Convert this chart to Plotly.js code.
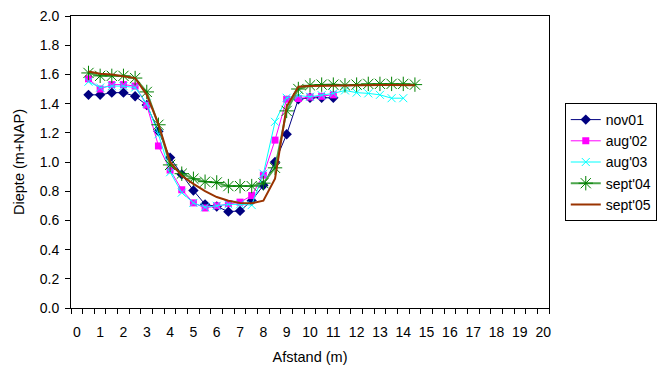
<!DOCTYPE html>
<html>
<head>
<meta charset="utf-8">
<script src="https://cdn.plot.ly/plotly-3.0.1.min.js"></script>
<style>html,body{margin:0;padding:0;background:#fff;}#chart{width:669px;height:374px;}</style>
</head>
<body>
<div id="chart"></div>
<script>
// Afstand (m)
const xNov01 = [0.5,1,1.5,2,2.5,3,3.5,4,4.5,5,5.5,6,6.5,7,7.5,8,8.5,9,9.5,10,10.5,11];
const yNov01 = [1.46,1.46,1.475,1.475,1.45,1.39,1.21,1.03,0.915,0.805,0.71,0.695,0.66,0.665,0.735,0.84,1.00,1.19,1.43,1.44,1.44,1.44];

const xAug02 = [0.5,1,1.5,2,2.5,3,3.5,4,4.5,5,5.5,6,6.5,7,7.5,8,8.5,9,9.5,10,10.5,11];
const yAug02 = [1.57,1.50,1.53,1.53,1.52,1.39,1.11,0.945,0.81,0.72,0.685,0.70,0.715,0.725,0.77,0.91,1.15,1.43,1.435,1.445,1.45,1.46];

const xAug03 = [0.5,1,1.5,2,2.5,3,3.5,4,4.5,5,5.5,6,6.5,7,7.5,8,8.5,9,9.5,10,10.5,11,11.5,12,12.5,13,13.5,14];
const yAug03 = [1.55,1.51,1.52,1.52,1.51,1.40,1.19,0.93,0.79,0.72,0.69,0.70,0.71,0.71,0.705,0.92,1.275,1.44,1.455,1.447,1.458,1.47,1.49,1.475,1.47,1.46,1.437,1.437];

const xSept04 = [0.5,1,1.5,2,2.5,3,3.5,4,4.5,5,5.5,6,6.5,7,7.5,8,8.5,9,9.5,10,10.5,11,11.5,12,12.5,13,13.5,14,14.5];
const ySept04 = [1.61,1.59,1.59,1.59,1.575,1.48,1.255,0.98,0.92,0.885,0.865,0.86,0.835,0.835,0.835,0.855,0.96,1.35,1.50,1.525,1.53,1.53,1.525,1.53,1.535,1.535,1.535,1.535,1.53];

const xSept05 = [0.5,1,1.5,2,2.5,3,3.5,4,4.5,5,5.5,6,6.5,7,7.5,8,8.5,9,9.5,10,10.5,11,11.5,12,12.5,13,13.5,14,14.5];
const ySept05 = [1.62,1.605,1.60,1.59,1.575,1.46,1.26,1.00,0.905,0.85,0.80,0.76,0.735,0.72,0.717,0.735,0.885,1.38,1.515,1.52,1.522,1.524,1.525,1.525,1.527,1.527,1.527,1.527,1.525];

const xTickVals = [0,1,2,3,4,5,6,7,8,9,10,11,12,13,14,15,16,17,18,19,20];
const yTickVals = [0,0.2,0.4,0.6,0.8,1.0,1.2,1.4,1.6,1.8,2.0];

const fam = 'Arial, "Liberation Sans", sans-serif';
const tickFont = {family: fam, size: 14, color: '#000'};
const titleFont = {family: fam, size: 14.5, color: '#000'};
const legendFont = {family: fam, size: 14, color: '#000'};

const traces = [
  {x: xNov01, y: yNov01, name: 'nov01', mode: 'lines+markers', type: 'scatter',
   line: {color: '#000080', width: 1}, marker: {symbol: 'diamond', size: 8, color: '#000080'}},
  {x: xAug02, y: yAug02, name: "aug'02", mode: 'lines+markers', type: 'scatter',
   line: {color: '#FF00FF', width: 1}, marker: {symbol: 'square', size: 7, color: '#FF00FF'}},
  {x: xAug03, y: yAug03, name: "aug'03", mode: 'lines+markers', type: 'scatter',
   line: {color: '#00FFFF', width: 1}, marker: {symbol: 'x-thin-open', size: 8, color: '#00FFFF', line: {color: '#00FFFF', width: 1}}},
  {x: xSept04, y: ySept04, name: "sept'04", mode: 'lines+markers', type: 'scatter',
   line: {color: '#4CA64C', width: 2}, marker: {symbol: 'asterisk-open', size: 12, color: '#008000', line: {color: '#008000', width: 1}}},
  {x: xSept05, y: ySept05, name: "sept'05", mode: 'lines', type: 'scatter',
   line: {color: '#993300', width: 2}}
];

const layout = {
  width: 669, height: 374,
  margin: {l: 71, r: 116, t: 16, b: 66, pad: 0},
  paper_bgcolor: '#fff', plot_bgcolor: '#fff',
  font: tickFont,
  showlegend: true,
  xaxis: {
    range: [-0.25, 20.25], showgrid: false, zeroline: false, automargin: false,
    showline: true, linecolor: '#000', linewidth: 1, mirror: true,
    tickmode: 'array', tickvals: xTickVals, ticktext: xTickVals.map(String),
    ticks: '', ticklabelstandoff: 11,
    minor: {tick0: -0.25, dtick: 0.5, ticks: 'outside', ticklen: 5, tickcolor: '#000', tickwidth: 1, showgrid: false},
    title: {text: 'Afstand (m)', font: titleFont, standoff: 13},
    tickfont: tickFont
  },
  yaxis: {
    range: [0, 2.0], showgrid: false, zeroline: false, automargin: false,
    showline: true, linecolor: '#000', linewidth: 1, mirror: true,
    tickmode: 'array', tickvals: yTickVals, ticktext: yTickVals.map(v => v.toFixed(1)),
    ticks: 'outside', ticklen: 5, tickcolor: '#000', ticklabelstandoff: 3,
    title: {text: 'Diepte (m+NAP)', font: titleFont, standoff: 11},
    tickfont: tickFont
  },
  legend: {
    x: 1.033, xanchor: 'left', y: 0.5, yanchor: 'middle',
    bgcolor: '#fff', bordercolor: '#000', borderwidth: 1,
    font: legendFont, itemwidth: 30, tracegroupgap: 0
  }
};

Plotly.newPlot('chart', traces, layout, {staticPlot: true, displayModeBar: false});
</script>
</body>
</html>
